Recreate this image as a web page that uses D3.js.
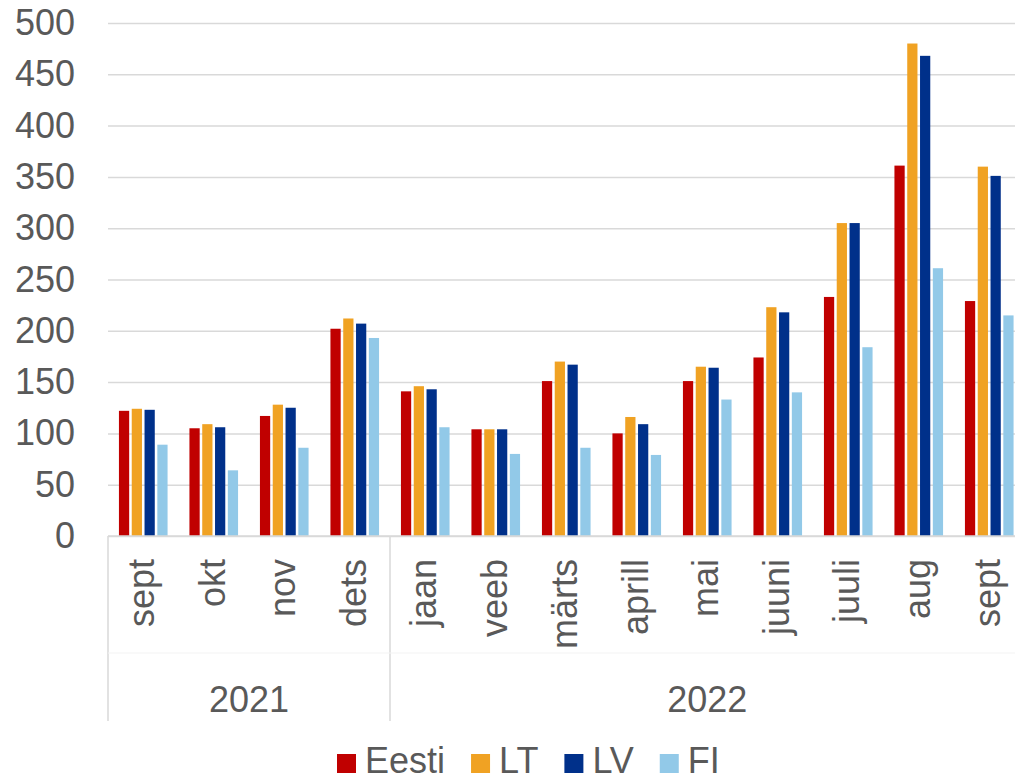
<!DOCTYPE html>
<html>
<head>
<meta charset="utf-8">
<script src="https://cdn.jsdelivr.net/npm/d3@7"></script>
<style>
	body { margin: 0; background: #fff; }
	svg { display: block; font-family: "Liberation Sans", Arial, sans-serif; }
</style>
</head>
<body>
<div id="chart"></div>
<script>
const months = ['sept', 'okt', 'nov', 'dets', 'jaan', 'veeb', 'märts', 'aprill', 'mai', 'juuni', 'juuli', 'aug', 'sept'];
const yearLabels = ['2021', '2022'];
const yearSpans = [4, 9];
const seriesNames = ['Eesti', 'LT', 'LV', 'FI'];
const eesti = [122, 105, 117, 202, 141, 104, 151, 100, 151, 174, 233, 361, 229];
const lt = [124, 109, 128, 212, 146, 104, 170, 116, 165, 223, 305, 480, 360];
const lv = [123, 106, 125, 207, 143, 104, 167, 109, 164, 218, 305, 468, 351];
const fi = [89, 64, 86, 193, 106, 80, 86, 79, 133, 140, 184, 261, 215];
const yTicks = [0, 50, 100, 150, 200, 250, 300, 350, 400, 450, 500];

const palette = ['#c00000', '#f0a223', '#00308a', '#92c9e8'];
const textColor = '#595959';
const gridColor = '#d9d9d9';

var chartWidth = 1015, chartHeight = 778;
var plotLeft = 108, step = 70.5, plotTop = 23, plotBase = 536;
var seriesValues = [eesti, lt, lv, fi];

var svg = d3.select('#chart')
	.append('svg')
		.attr('width', chartWidth)
		.attr('height', chartHeight);

var x0 = d3.scaleBand()
	.domain(months.map((m, i) => i))
	.range([plotLeft, plotLeft + step * months.length])
	.paddingInner(0.274)
	.paddingOuter(0.137);

var x1 = d3.scaleBand()
	.domain(seriesNames)
	.range([0, x0.bandwidth()])
	.paddingInner(0.2)
	.paddingOuter(0.1);

var y = d3.scaleLinear()
	.domain([0, 500])
	.range([plotBase, plotTop]);

// gridlines + y labels
var yAxis = svg.append('g')
	.attr('transform', 'translate(' + plotLeft + ',0)')
	.call(d3.axisLeft(y).tickValues(yTicks).tickSize(-(chartWidth - plotLeft + 20)).tickPadding(33));
yAxis.select('.domain').remove();
yAxis.selectAll('.tick line')
	.attr('stroke', gridColor)
	.attr('stroke-width', 1.5);
yAxis.selectAll('.tick text')
	.attr('fill', textColor)
	.style('font-size', '36px');

// bars
var rows = months.map((m, i) => seriesNames.map((s, j) => ({ idx: i, key: s, value: seriesValues[j][i] })));
svg.append('g')
	.selectAll('g')
	.data(rows)
	.enter()
	.append('g')
		.attr('transform', (d, i) => 'translate(' + x0(i) + ',0)')
	.selectAll('rect')
	.data(d => d)
	.enter()
	.append('rect')
		.attr('x', d => x1(d.key))
		.attr('y', d => y(d.value))
		.attr('width', x1.bandwidth())
		.attr('height', d => y(0) - y(d.value))
		.attr('fill', d => palette[seriesNames.indexOf(d.key)]);

// category axis frame
var axisBottom = 721;
var bounds = [0];
yearSpans.forEach(s => bounds.push(bounds[bounds.length - 1] + s));
var edgeX = i => plotLeft + step * i;
var frame = svg.append('g').attr('stroke', gridColor).attr('stroke-width', 1.5);
frame.append('line')
	.attr('x1', plotLeft).attr('x2', chartWidth + 20)
	.attr('y1', plotBase).attr('y2', plotBase);
frame.selectAll('.sep')
	.data(bounds)
	.enter()
	.append('line')
		.attr('class', 'sep')
		.attr('x1', d => edgeX(d)).attr('x2', d => edgeX(d))
		.attr('y1', plotBase).attr('y2', axisBottom);
svg.append('line')
	.attr('x1', plotLeft).attr('x2', chartWidth + 20)
	.attr('y1', 653).attr('y2', 653)
	.attr('stroke', '#f3f3f3')
	.attr('stroke-width', 1);

// month labels
svg.append('g')
	.selectAll('text')
	.data(months)
	.enter()
	.append('text')
		.attr('transform', (d, i) => 'translate(' + (x0(i) + x0.bandwidth() / 2 + 11) + ',559) rotate(-90)')
		.attr('text-anchor', 'end')
		.attr('fill', textColor)
		.style('font-size', '36px')
		.text(d => d);

// year labels
svg.append('g')
	.selectAll('text')
	.data(yearLabels)
	.enter()
	.append('text')
		.attr('x', (d, i) => (edgeX(bounds[i]) + edgeX(bounds[i + 1])) / 2)
		.attr('y', 712)
		.attr('text-anchor', 'middle')
		.attr('fill', textColor)
		.style('font-size', '36px')
		.text(d => d);

// legend
var legend = svg.append('g');
var lx = 337;
seriesNames.forEach((name, i) => {
	legend.append('rect')
		.attr('x', lx).attr('y', 754)
		.attr('width', 19).attr('height', 19)
		.attr('fill', palette[i]);
	var t = legend.append('text')
		.attr('x', lx + 28).attr('y', 773)
		.attr('fill', textColor)
		.style('font-size', '36px')
		.text(name);
	lx += 28 + t.node().getComputedTextLength() + 26;
});
</script>
</body>
</html>
